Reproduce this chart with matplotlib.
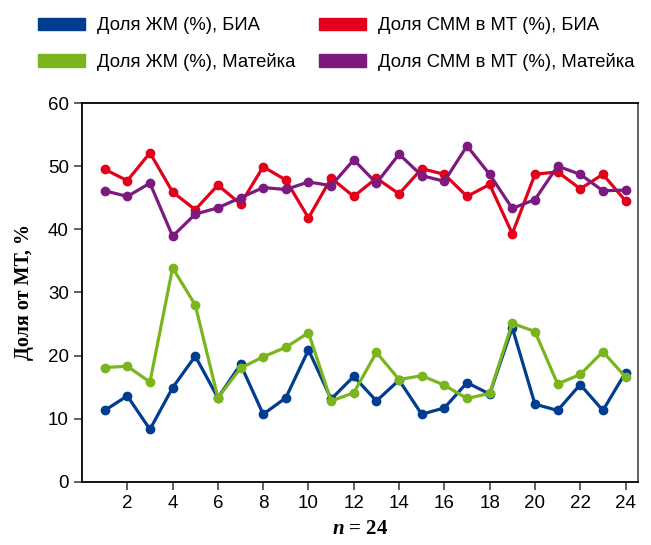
import matplotlib.pyplot as plt
from matplotlib.patches import Patch
import numpy as np

# === Data ===
n = np.arange(1, 25)
fat_bia = [11.3, 13.6, 8.3, 14.9, 19.9, 13.3, 18.6, 10.7, 13.3, 20.9, 13.1, 16.7,
           12.8, 16.1, 10.7, 11.7, 15.7, 13.9, 24.4, 12.3, 11.3, 15.4, 11.3, 17.3]
fat_mat = [18.1, 18.3, 15.8, 33.9, 28.0, 13.3, 18.0, 19.8, 21.3, 23.6, 12.8, 14.1,
           20.5, 16.2, 16.8, 15.3, 13.2, 14.0, 25.1, 23.8, 15.5, 17.0, 20.6, 16.6]
smm_bia = [49.5, 47.7, 52.1, 45.9, 43.1, 47.0, 44.0, 49.9, 47.8, 41.8, 48.1, 45.2,
           48.1, 45.6, 49.6, 48.7, 45.2, 47.1, 39.3, 48.7, 49.1, 46.4, 48.7, 44.5]
smm_mat = [46.1, 45.2, 47.3, 38.9, 42.4, 43.4, 45.0, 46.6, 46.3, 47.5, 46.9, 51.0,
           47.3, 51.9, 48.5, 47.6, 53.2, 48.7, 43.3, 44.7, 50.0, 48.7, 46.1, 46.2]

labels = ["Доля ЖМ (%), БИА", "Доля ЖМ (%), Матейка",
          "Доля СММ в МТ (%), БИА", "Доля СММ в МТ (%), Матейка"]
colors = {"blue": "#003c8f", "red": "#e2001a", "green": "#7ab51d", "purple": "#7d1a80"}

plt.rcParams['font.family'] = ['Liberation Sans', 'DejaVu Sans']
plt.rcParams['mathtext.fontset'] = 'custom'
plt.rcParams['mathtext.it'] = 'Liberation Serif:italic:bold'
plt.rcParams['mathtext.rm'] = 'Liberation Serif:bold'

# === Plot ===
fig = plt.figure(figsize=(6.51, 5.45), dpi=100)
ax = fig.add_axes([0.126, 0.116, 0.854, 0.695])

line_kw = dict(lw=2.3, marker='o', ms=6)
ax.plot(n, fat_bia, color=colors["blue"], **line_kw)
ax.plot(n, fat_mat, color=colors["green"], **line_kw)
ax.plot(n, smm_bia, color=colors["red"], **line_kw)
ax.plot(n, smm_mat, color=colors["purple"], **line_kw)

ax.set_xlim(0, 24.55)
ax.set_ylim(0, 60)
ax.set_xticks(range(2, 25, 2))
ax.set_yticks(range(0, 61, 10))
ax.tick_params(labelsize=13.5, length=6, width=1.2, color='#444444')
for s in ax.spines.values():
    s.set_linewidth(1.3)
ax.spines['right'].set_color('#555555')

ax.set_ylabel("Доля от МТ, %", family=['Liberation Serif'], fontweight='bold',
              fontsize=14.5, labelpad=10)
ax.set_xlabel(r"$n$ = 24", family=['Liberation Serif'], fontweight='bold',
              fontsize=15, labelpad=5)

handles = [Patch(color=colors["blue"]), Patch(color=colors["green"]),
           Patch(color=colors["red"]), Patch(color=colors["purple"])]
fig.legend(handles, labels, ncol=2, loc='upper left', bbox_to_anchor=(0.044, 0.985),
           frameon=False, fontsize=13.3, handlelength=2.55, handleheight=0.65,
           handletextpad=0.65, columnspacing=1.3, labelspacing=1.0, borderpad=0)

fig.savefig("out.png", dpi=100)
